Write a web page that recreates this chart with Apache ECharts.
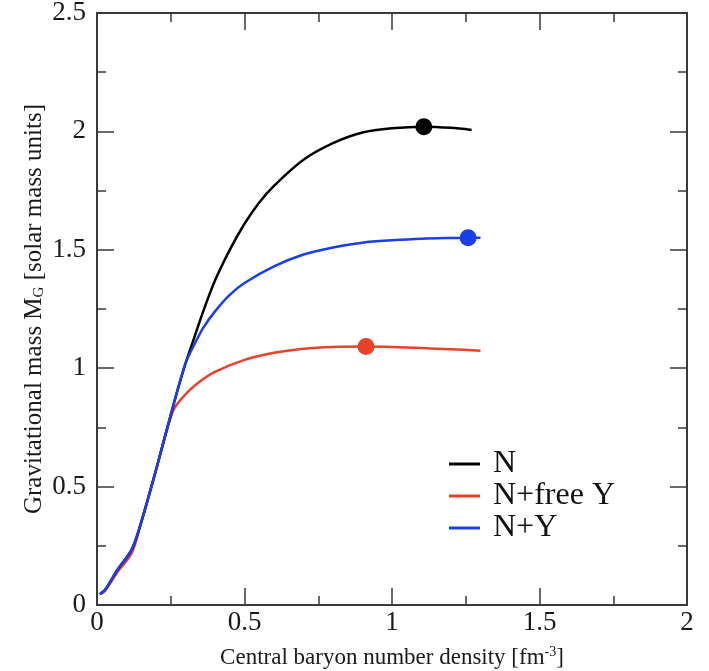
<!DOCTYPE html>
<html>
<head>
<meta charset="utf-8">
<script src="https://cdn.jsdelivr.net/npm/echarts@6/dist/echarts.min.js"></script>
<style>
  html, body { margin: 0; padding: 0; background: #fff; }
  #chart { width: 709px; height: 671px; }
</style>
</head>
<body>
<div id="chart"></div>
<script>
// Central baryon number density [fm^-3] and gravitational mass [M_sun]
const densityN = [0.01, 0.027, 0.07, 0.118, 0.15, 0.2, 0.258, 0.3, 0.33, 0.36, 0.4, 0.45, 0.5, 0.55, 0.6, 0.7, 0.8, 0.9, 1.0, 1.108, 1.2, 1.27];
const massN    = [0.046, 0.063, 0.15, 0.235, 0.35, 0.57, 0.84, 1.02, 1.13, 1.24, 1.37, 1.5, 1.61, 1.7, 1.77, 1.88, 1.95, 1.995, 2.013, 2.02, 2.015, 2.006];

const densityFreeY = [0.01, 0.027, 0.07, 0.118, 0.15, 0.2, 0.258, 0.3, 0.35, 0.4, 0.5, 0.6, 0.7, 0.8, 0.912, 1.0, 1.1, 1.2, 1.3];
const massFreeY    = [0.046, 0.06, 0.14, 0.22, 0.35, 0.57, 0.82, 0.89, 0.945, 0.985, 1.035, 1.065, 1.082, 1.09, 1.092, 1.09, 1.085, 1.08, 1.074];

const densityY = [0.01, 0.027, 0.07, 0.118, 0.15, 0.2, 0.258, 0.3, 0.33, 0.36, 0.4, 0.45, 0.5, 0.6, 0.7, 0.8, 0.9, 1.0, 1.1, 1.2, 1.258, 1.3];
const massY    = [0.046, 0.063, 0.15, 0.235, 0.35, 0.57, 0.84, 1.02, 1.1, 1.17, 1.24, 1.31, 1.36, 1.43, 1.48, 1.51, 1.53, 1.54, 1.547, 1.55, 1.551, 1.551];

// Maximum-mass configurations
const maxN     = [1.108, 2.02];
const maxFreeY = [0.912, 1.092];
const maxY     = [1.258, 1.551];

const seriesNames = ['N', 'N+free Y', 'N+Y'];
const colors = ['#000000', '#e8412c', '#1a3ee8'];

const xTicks = [0, 0.5, 1, 1.5, 2];
const yTicks = [0, 0.5, 1, 1.5, 2, 2.5];

const pairs = (xs, ys) => xs.map((x, i) => [x, ys[i]]);
const fmt = v => String(v);

const FONT = 'Liberation Serif';
const axisColor = '#3a3a3a';
const textColor = '#1a1a1a';

const chart = echarts.init(document.getElementById('chart'));

function frameAxis(extra) {
  return Object.assign({
    type: 'value',
    interval: 0.5,
    axisLine: { show: true, onZero: false, lineStyle: { color: axisColor, width: 2 } },
    axisTick: { show: true, inside: true, length: 17, lineStyle: { color: axisColor, width: 1.5 } },
    minorTick: { show: true, splitNumber: 2, length: 9, lineStyle: { color: axisColor, width: 1.5 } },
    splitLine: { show: false },
    minorSplitLine: { show: false }
  }, extra);
}

chart.setOption({
  animation: false,
  backgroundColor: '#ffffff',
  grid: { left: 97, right: 22, top: 13, bottom: 66, containLabel: false, outerBoundsMode: 'none' },
  xAxis: [
    frameAxis({
      position: 'bottom', min: 0, max: 2,
      name: 'Central baryon number density [fm{sup|-3}]',
      nameLocation: 'middle', nameGap: 40,
      nameTextStyle: {
        fontFamily: FONT, fontSize: 23, color: textColor,
        rich: { sup: { fontFamily: FONT, fontSize: 14, color: textColor, verticalAlign: 'top', padding: [0, 0, 12, 0] } }
      },
      axisLabel: {
        fontFamily: FONT, fontSize: 27, color: textColor, margin: 4,
        formatter: v => (xTicks.includes(v) ? fmt(v) : '')
      }
    }),
    frameAxis({
      position: 'top', min: 0, max: 2,
      axisLabel: { show: false }
    })
  ],
  yAxis: [
    frameAxis({
      position: 'left', min: 0, max: 2.5,
      name: 'Gravitational mass M{sub|G} [solar mass units]',
      nameLocation: 'middle', nameGap: 50, nameRotate: 90,
      nameMoveOverlap: false,
      nameTextStyle: {
        fontFamily: FONT, fontSize: 25, color: textColor,
        rich: { sub: { fontFamily: FONT, fontSize: 15, color: textColor, verticalAlign: 'bottom', padding: [10, 0, 0, 0] } }
      },
      axisLabel: {
        fontFamily: FONT, fontSize: 27, color: textColor, margin: 11,
        formatter: v => (yTicks.includes(v) ? fmt(v) : '')
      }
    }),
    frameAxis({
      position: 'right', min: 0, max: 2.5,
      axisLabel: { show: false }
    })
  ],
  legend: {
    orient: 'vertical',
    left: 444, top: 443,
    itemWidth: 31, itemHeight: 3, itemGap: 0,
    icon: 'rect',
    data: seriesNames,
    textStyle: { fontFamily: FONT, fontSize: 32, color: '#111', padding: [0, 0, 0, 8] }
  },
  series: [
    { name: seriesNames[1], type: 'line', data: pairs(densityFreeY, massFreeY), smooth: 0.3, symbol: 'none',
      lineStyle: { color: colors[1], width: 2.5 }, itemStyle: { color: colors[1] }, z: 2 },
    { name: seriesNames[0], type: 'line', data: pairs(densityN, massN), smooth: 0.3, symbol: 'none',
      lineStyle: { color: colors[0], width: 2.5 }, itemStyle: { color: colors[0] }, z: 3 },
    { name: seriesNames[2], type: 'line', data: pairs(densityY, massY), smooth: 0.3, symbol: 'none',
      lineStyle: { color: colors[2], width: 2.5 }, itemStyle: { color: colors[2] }, z: 4 },
    { type: 'scatter', data: [maxN], symbolSize: 17, itemStyle: { color: colors[0], opacity: 1 }, z: 5 },
    { type: 'scatter', data: [maxFreeY], symbolSize: 17, itemStyle: { color: colors[1], opacity: 1 }, z: 5 },
    { type: 'scatter', data: [maxY], symbolSize: 17, itemStyle: { color: colors[2], opacity: 1 }, z: 5 }
  ]
});
</script>
</body>
</html>
